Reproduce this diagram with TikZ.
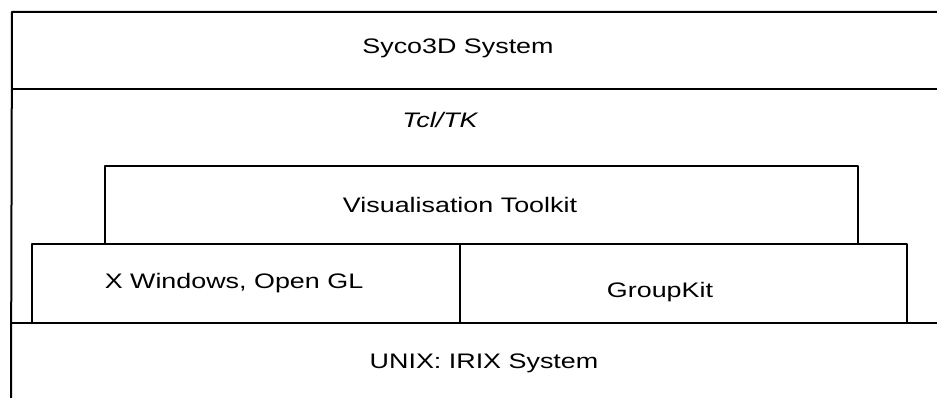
\documentclass[tikz,border=0pt]{standalone}
\usepackage{fontspec}
\setmainfont{Liberation Sans}[FakeStretch=1.28]
\usetikzlibrary{positioning}

\begin{document}
\begin{tikzpicture}[
  x=1pt, y=-1pt,
  rule/.style={line width=2pt, line cap=round, line join=round},
  lbl/.style={anchor=base, inner sep=0pt, font=\fontsize{21}{25}\selectfont}
]
\useasboundingbox (0,0) rectangle (937,398);
% outer layers
\draw[rule] (937,12) -- (12,12) -- (11,398);
\draw[rule] (12,89) -- (937,89);
\draw[rule] (11,323) -- (937,323);
% visualisation toolkit
\draw[rule] (105,244) -- (105,166) -- (858,166) -- (858,244);
% lower row
\draw[rule] (32,323) -- (32,244) -- (907,244) -- (907,323);
\draw[rule] (460,244) -- (460,323);
% labels
\node[lbl] (syco) at (458,54) {Syco3D System};
\node[lbl, font=\fontsize{21}{25}\selectfont\itshape] (tcl) at (440,128) {Tcl/TK};
\node[lbl] (vtk) at (460,213) {Visualisation Toolkit};
\node[lbl] (xwin) at (234,288) {X Windows, Open GL};
\node[lbl] (gkit) at (660,297) {GroupKit};
\node[lbl] (unix) at (484,368) {UNIX: IRIX System};
\end{tikzpicture}
\end{document}
